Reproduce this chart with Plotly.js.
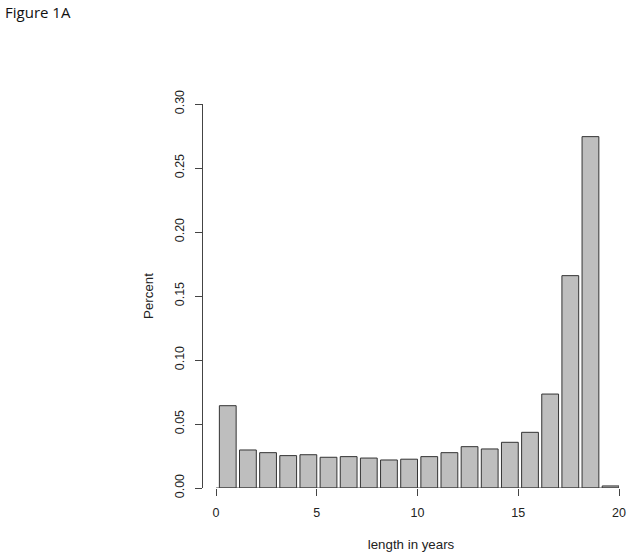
<!DOCTYPE html>
<html>
<head>
<meta charset="utf-8">
<script src="https://cdn.plot.ly/plotly-3.0.1.min.js"></script>
<style>html,body{margin:0;padding:0;background:#fff;}#chart{width:632px;height:558px;}</style>
</head>
<body>
<div id="chart"></div>
<script>
// Years bin index (bar k covers length k..k+1 on the labelled axis)
const binStart = [0,1,2,3,4,5,6,7,8,9,10,11,12,13,14,15,16,17,18,19];
const percent = [0.0643,0.0297,0.0276,0.0253,0.0260,0.0240,0.0245,0.0234,0.0219,0.0225,
                 0.0245,0.0276,0.0323,0.0305,0.0357,0.0435,0.0734,0.1659,0.2745,0.0016];
const xTicks = [0,5,10,15,20];
const yTicks = [0,0.05,0.10,0.15,0.20,0.25,0.30];

// R barplot with space=0.2 rescaled to the 0..20 axis: bar from k+1/6 to k+1
const barWidth = 1/1.2;
const xCenters = binStart.map(k => k + 0.2/1.2 + barWidth/2);

const axisColor = '#444';
const tickFont = {family: 'Liberation Sans, Arial, sans-serif', size: 12.5, color: '#222'};
const titleFont = {family: 'Liberation Sans, Arial, sans-serif', size: 13.3, color: '#222'};

const trace = {
  type: 'bar',
  x: xCenters,
  y: percent,
  width: barWidth,
  marker: {color: '#bebebe', line: {color: '#333', width: 1}},
  hoverinfo: 'skip'
};

const layout = {
  width: 632, height: 558,
  margin: {l: 203, r: 13, t: 104, b: 70},
  paper_bgcolor: '#fff', plot_bgcolor: '#fff',
  showlegend: false,
  font: tickFont,
  title: {text: 'Figure 1A', x: 0.008, xanchor: 'left', y: 0.977, yanchor: 'middle',
          font: {family: 'Open Sans, Liberation Sans, sans-serif', size: 15, color: '#111'}},
  xaxis: {
    range: [-0.645, 20],
    tickvals: xTicks,
    ticktext: xTicks.map(String),
    ticks: 'outside', ticklen: 7, tickcolor: axisColor, tickwidth: 1,
    ticklabelstandoff: 6,
    showline: false, showgrid: false, zeroline: false,
    tickfont: tickFont,
    title: {text: 'length in years', font: titleFont, standoff: 20}
  },
  yaxis: {
    range: [0, 0.30],
    tickvals: yTicks,
    tickformat: '.2f',
    tickangle: -90,
    ticks: 'outside', ticklen: 7, tickcolor: axisColor, tickwidth: 1,
    ticklabelstandoff: 6,
    showline: true, linecolor: axisColor, linewidth: 1,
    showgrid: false, zeroline: false,
    tickfont: tickFont,
    title: {text: 'Percent', font: titleFont, standoff: 16}
  },
  shapes: [{
    type: 'line', xref: 'x', yref: 'y',
    x0: xTicks[0], x1: xTicks[xTicks.length-1], y0: 0, y1: 0,
    line: {color: axisColor, width: 1}
  }]
};

Plotly.newPlot('chart', [trace], layout, {displayModeBar: false, staticPlot: true});
</script>
</body>
</html>
